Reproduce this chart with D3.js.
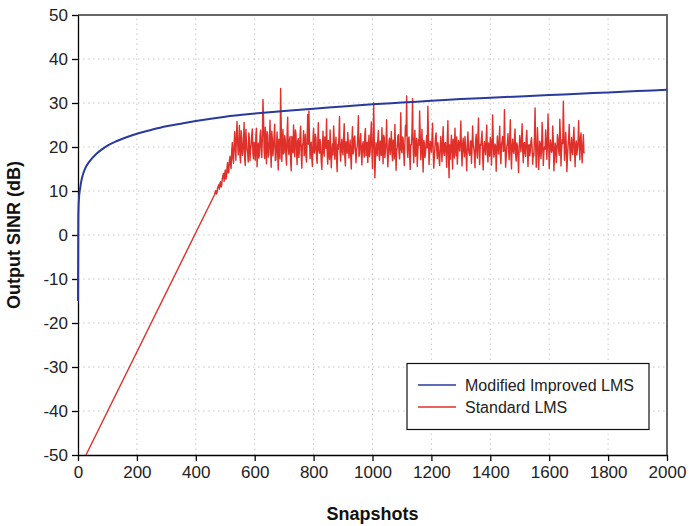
<!DOCTYPE html>
<html lang="en">
<head>
    <meta charset="UTF-8">
    <title>Output SINR vs Snapshots</title>
    <script src="https://d3js.org/d3.v7.min.js"></script>
    <style>
        body { margin: 0; background: #fff; font-family: "Liberation Sans", Arial, sans-serif; }
        .grid line { stroke: #c8c8c8; stroke-width: 1; stroke-dasharray: 1.5,3.5; }
        .axis text { font-size: 17px; fill: #222; }
        .axis line, .axis path { stroke: #000; stroke-width: 1.3px; }
        .title { font-size: 18px; font-weight: bold; fill: #111; }
        .legend text { font-size: 16px; fill: #222; }
    </style>
</head>
<body>
<svg width="692" height="526"></svg>
<script>
// x ticks and y ticks
const xTicks = [0, 200, 400, 600, 800, 1000, 1200, 1400, 1600, 1800, 2000];
const yTicks = [-50, -40, -30, -20, -10, 0, 10, 20, 30, 40, 50];

// Modified Improved LMS (snapshot, dB)
const blueSnap = [0, 1, 3, 7, 12, 18, 25, 40, 60, 80, 100, 130, 160, 200, 250, 300, 350, 400, 500, 600, 700, 800, 900, 1000, 1100, 1200, 1300, 1400, 1500, 1600, 1700, 1800, 1900, 2000];
const blueDb   = [-15, 4, 8, 10.5, 12.5, 14, 15.2, 16.8, 18.3, 19.4, 20.3, 21.3, 22.1, 23, 23.9, 24.7, 25.3, 25.9, 26.9, 27.6, 28.2, 28.7, 29.2, 29.7, 30.1, 30.5, 30.9, 31.2, 31.5, 31.8, 32.1, 32.4, 32.7, 33];

// Standard LMS: straight ramp, then noisy steady state
const redRampSnap = [27, 464];
const redRampDb = [-50, 9.2];

// samples at 464, 468, 472 ...
const redStartA = 464, redStep = 4;
const redNoiseA = [
    9.2, 10.1, 9.6, 11.0, 10.4, 12.1, 11.3, 13.5, 12.2, 14.8, 13.0, 16.5, 14.2, 17.9, 15.1, 21.0, 16.3, 23.5, 17.0, 25.8,
    18.2, 24.9, 16.4, 22.1, 19.0, 25.6, 15.8, 21.4, 18.7, 23.2, 16.9, 20.5, 24.1, 17.3, 19.8, 22.6, 15.5, 20.9, 18.1, 23.8,
    17.6, 30.8, 19.2, 24.5, 16.2, 22.8, 18.5, 26.1, 15.4, 21.7, 19.9, 25.2, 17.1, 23.4, 14.8, 20.6, 33.3, 16.7, 24.0, 18.8,
    21.5, 15.9, 26.8, 18.3, 22.4, 14.6, 20.2, 25.0, 17.8, 23.1, 16.0, 21.9, 19.4, 24.7, 15.2, 20.8, 18.0, 22.9, 16.6, 27.4,
    28.2, 17.4, 21.1, 15.6, 24.3, 19.1, 22.0, 16.3, 25.5, 18.6, 20.4, 14.9, 23.6, 17.9, 21.3, 26.4, 16.1, 19.7, 23.9, 15.3,
    20.7, 24.8, 17.2, 22.2, 14.4, 19.5, 26.9, 16.8, 21.8, 18.2, 25.3, 15.7, 20.1, 23.3, 17.5, 21.6, 15.0, 24.6, 19.3, 22.5,
    16.4, 20.0, 27.1, 18.4, 23.0, 15.9, 21.2, 17.7, 24.2, 19.6, 16.5, 22.7, 18.9, 25.7, 15.1, 30.0, 13.0, 21.0, 18.0, 23.7,
    17.0, 20.3, 24.4, 16.2, 22.1, 19.0, 26.2, 15.5, 21.4, 18.3, 23.5, 16.9, 20.6, 25.1, 14.7, 19.8, 22.8, 17.3, 27.8, 18.7,
    21.9, 15.8, 24.9, 31.6, 17.6, 22.3, 14.9, 20.5, 31.0, 16.4, 23.8, 19.2, 15.6, 21.7, 28.2, 17.1, 24.0, 14.3, 20.9, 18.6,
    22.6, 29.3, 16.0, 21.3, 18.8, 25.4, 15.2, 20.0, 23.2, 17.4, 19.5, 15.8, 22.4, 16.7, 24.6, 18.1, 21.0, 15.4, 26.0, 13.0,
    17.2, 22.7, 15.0, 20.8, 24.3, 18.0, 16.1, 21.5, 19.1, 25.9, 15.7, 22.0, 17.8, 20.2, 14.6, 23.4, 18.5, 21.1, 16.3, 24.8,
    19.6, 15.3, 22.9, 17.5, 26.6, 16.0, 20.4, 23.6, 14.8, 21.2, 18.2, 25.0, 16.6, 19.9, 22.2, 15.9, 27.3, 17.7, 20.7, 14.5,
    22.5, 18.4, 24.7, 16.2, 21.4, 19.0, 28.5, 15.4, 20.1, 23.0, 17.1, 26.2, 15.0, 21.8, 18.6, 24.1, 16.8, 20.3, 14.2, 22.6,
    18.9, 25.3, 16.4, 21.0, 17.9, 23.8, 15.6, 20.6, 19.2, 22.1, 16.1, 18.0, 28.9, 15.4, 24.4, 14.9, 21.3, 17.4, 25.6, 15.8,
    20.0, 23.9, 17.2, 27.5, 15.1, 21.6, 18.8, 24.8, 14.6, 20.9, 16.5, 22.8, 19.4, 26.3, 15.7, 21.7, 30.4, 17.0, 23.3, 14.4,
    20.2, 25.1, 16.9, 22.1, 18.3, 24.5, 15.5, 21.4, 19.7, 26.0, 17.1, 23.2, 16.4, 22.8, 18.6
];

// samples at 466, 470, 474 ...
const redStartB = 466;
const redNoiseB = [
    9.8, 9.3, 10.7, 11.4, 11.8, 10.9, 12.9, 14.0, 13.6, 12.7, 15.4, 14.1, 16.8, 15.9, 19.2, 17.4, 20.4, 19.6, 22.8, 21.1,
    20.6, 17.9, 23.7, 18.1, 21.3, 17.2, 24.0, 19.5, 16.6, 21.9, 19.3, 22.8, 18.4, 21.1, 17.0, 24.3, 19.1, 17.5, 22.4, 19.9,
    22.0, 26.3, 17.4, 20.8, 23.5, 17.7, 21.4, 19.3, 23.6, 18.0, 22.7, 16.9, 20.4, 18.6, 21.8, 17.3, 25.4, 20.1, 18.4, 22.6,
    18.0, 23.2, 19.7, 21.6, 16.8, 22.4, 18.7, 20.1, 23.9, 19.0, 21.4, 17.6, 22.8, 18.2, 20.5, 23.7, 19.4, 17.9, 21.8, 20.6,
    22.1, 19.8, 17.3, 21.9, 18.6, 22.9, 17.4, 20.8, 19.2, 21.7, 16.7, 20.0, 18.9, 22.3, 19.7, 18.8, 21.5, 17.2, 20.3, 18.5,
    18.2, 21.7, 19.9, 17.3, 20.6, 22.2, 18.7, 20.3, 19.0, 22.4, 17.8, 21.2, 18.6, 20.7, 19.5, 17.9, 21.3, 18.4, 22.1, 19.2,
    19.4, 22.6, 17.9, 21.5, 18.7, 20.3, 19.1, 22.9, 18.0, 21.1, 19.6, 17.8, 22.5, 18.9, 20.7, 22.1, 17.4, 19.8, 21.6, 18.3,
    21.4, 18.1, 19.9, 22.7, 17.6, 21.2, 19.5, 18.4, 22.0, 20.1, 18.7, 21.6, 17.3, 20.8, 19.2, 22.5, 18.6, 21.0, 19.4, 22.3,
    18.5, 20.9, 22.6, 19.3, 21.8, 18.4, 20.6, 23.4, 19.7, 21.2, 17.9, 22.0, 19.0, 20.4, 22.8, 19.6, 18.2, 21.5, 17.6, 20.7,
    19.8, 22.4, 18.9, 20.5, 21.9, 19.1, 17.8, 22.3, 19.4, 21.0, 17.2, 20.1, 19.3, 21.6, 18.6, 20.9, 18.3, 22.0, 17.9, 20.5,
    20.4, 18.7, 21.8, 17.5, 19.9, 22.3, 18.6, 20.2, 21.7, 18.9, 20.6, 19.1, 22.4, 17.8, 20.8, 19.6, 18.1, 21.4, 19.7, 20.6,
    18.3, 21.1, 19.2, 22.6, 18.8, 20.5, 21.9, 17.6, 20.1, 19.3, 22.2, 18.5, 20.9, 17.9, 21.3, 19.4, 22.0, 18.6, 20.2, 18.9,
    19.7, 21.5, 18.2, 20.6, 22.4, 19.1, 21.0, 17.7, 20.8, 19.5, 22.1, 18.4, 20.3, 19.0, 21.7, 18.1, 20.9, 17.8, 19.6, 21.2,
    21.6, 19.2, 20.8, 18.5, 22.1, 19.4, 20.3, 18.0, 21.3, 19.8, 18.6, 22.5, 20.1, 19.0, 21.1, 17.6, 20.7, 19.3, 21.8, 18.9,
    19.5, 21.3, 20.4, 22.0, 18.4, 20.6, 19.2, 21.5, 17.9, 20.2, 19.0, 21.7, 18.1, 22.6, 19.4, 20.8, 23.2, 18.8, 20.5, 17.7,
    21.9, 19.6, 20.3, 18.8, 22.1, 19.5, 20.7, 18.2, 21.3, 19.9, 22.0, 19.0, 20.4, 18.7
];

const seriesNames = ["Modified Improved LMS", "Standard LMS"];
const seriesColors = ["#2a3a9c", "#e0302a"];

const margin = { left: 78, right: 25, top: 15, bottom: 71 };
const width = 692, height = 526;

const svg = d3.select("svg");

const x = d3.scaleLinear().domain([0, 2000]).range([margin.left, width - margin.right]);
const y = d3.scaleLinear().domain([-50, 50]).range([height - margin.bottom, margin.top]);

// dotted grid
const grid = svg.append("g").attr("class", "grid");
grid.selectAll(".gx").data(xTicks.slice(1, -1)).enter().append("line")
    .attr("x1", d => x(d)).attr("x2", d => x(d))
    .attr("y1", y(-50)).attr("y2", y(50));
grid.selectAll(".gy").data(yTicks.slice(1, -1)).enter().append("line")
    .attr("x1", x(0)).attr("x2", x(2000))
    .attr("y1", d => y(d)).attr("y2", d => y(d));

// top & right frame in gray
svg.append("path")
    .attr("d", `M${x(0)},${y(50)}H${x(2000)}V${y(-50)}`)
    .attr("fill", "none").attr("stroke", "#666").attr("stroke-width", 2);

// axes
svg.append("g")
    .attr("class", "axis")
    .attr("transform", `translate(0,${y(-50)})`)
    .call(d3.axisBottom(x).tickValues(xTicks).tickFormat(d => String(d))
        .tickSize(6).tickPadding(5).tickSizeOuter(0));

svg.append("g")
    .attr("class", "axis")
    .attr("transform", `translate(${x(0)},0)`)
    .call(d3.axisLeft(y).tickValues(yTicks).tickFormat(d => String(d))
        .tickSize(6).tickPadding(4).tickSizeOuter(0));

svg.selectAll(".axis .tick text").attr("fill", "#222");

svg.append("clipPath").attr("id", "plotclip").append("rect")
    .attr("x", x(0) - 2).attr("y", y(50))
    .attr("width", x(2000) - x(0) + 2).attr("height", y(-50) - y(50));

const plot = svg.append("g").attr("clip-path", "url(#plotclip)");

// red series points, both sample sets merged by snapshot
const redPts = redRampSnap.map((s, i) => [s, redRampDb[i]])
    .concat(redNoiseA.map((v, i) => [redStartA + i * redStep, v]))
    .concat(redNoiseB.map((v, i) => [redStartB + i * redStep, v]))
    .sort((a, b) => a[0] - b[0]);

plot.append("path")
    .datum(redPts)
    .attr("fill", "none")
    .attr("stroke", seriesColors[1])
    .attr("stroke-width", 1.4)
    .attr("stroke-linejoin", "round")
    .attr("d", d3.line().x(d => x(d[0])).y(d => y(d[1])));

const bluePts = blueSnap.map((s, i) => [s, blueDb[i]]);
plot.append("path")
    .datum(bluePts)
    .attr("fill", "none")
    .attr("stroke", seriesColors[0])
    .attr("stroke-width", 2)
    .attr("d", d3.line().curve(d3.curveMonotoneX).x(d => x(d[0])).y(d => y(d[1])));

// axis titles
svg.append("text")
    .attr("class", "title")
    .attr("x", (x(0) + x(2000)) / 2)
    .attr("y", 520)
    .attr("text-anchor", "middle")
    .text("Snapshots");

svg.append("text")
    .attr("class", "title")
    .attr("transform", `translate(20,${(y(50) + y(-50)) / 2}) rotate(-90)`)
    .attr("text-anchor", "middle")
    .text("Output SINR (dB)");

// legend
const legend = svg.append("g").attr("class", "legend");
legend.append("rect")
    .attr("x", 407).attr("y", 363.5)
    .attr("width", 242).attr("height", 66)
    .attr("fill", "#fff").attr("stroke", "#111").attr("stroke-width", 1.2);

seriesNames.forEach((name, i) => {
    const ly = 385 + i * 22;
    legend.append("line")
        .attr("x1", 418).attr("x2", 456)
        .attr("y1", ly).attr("y2", ly)
        .attr("stroke", seriesColors[i]).attr("stroke-width", 1.3);
    legend.append("text")
        .attr("x", 465).attr("y", ly + 5.5)
        .text(name);
});
</script>
</body>
</html>
